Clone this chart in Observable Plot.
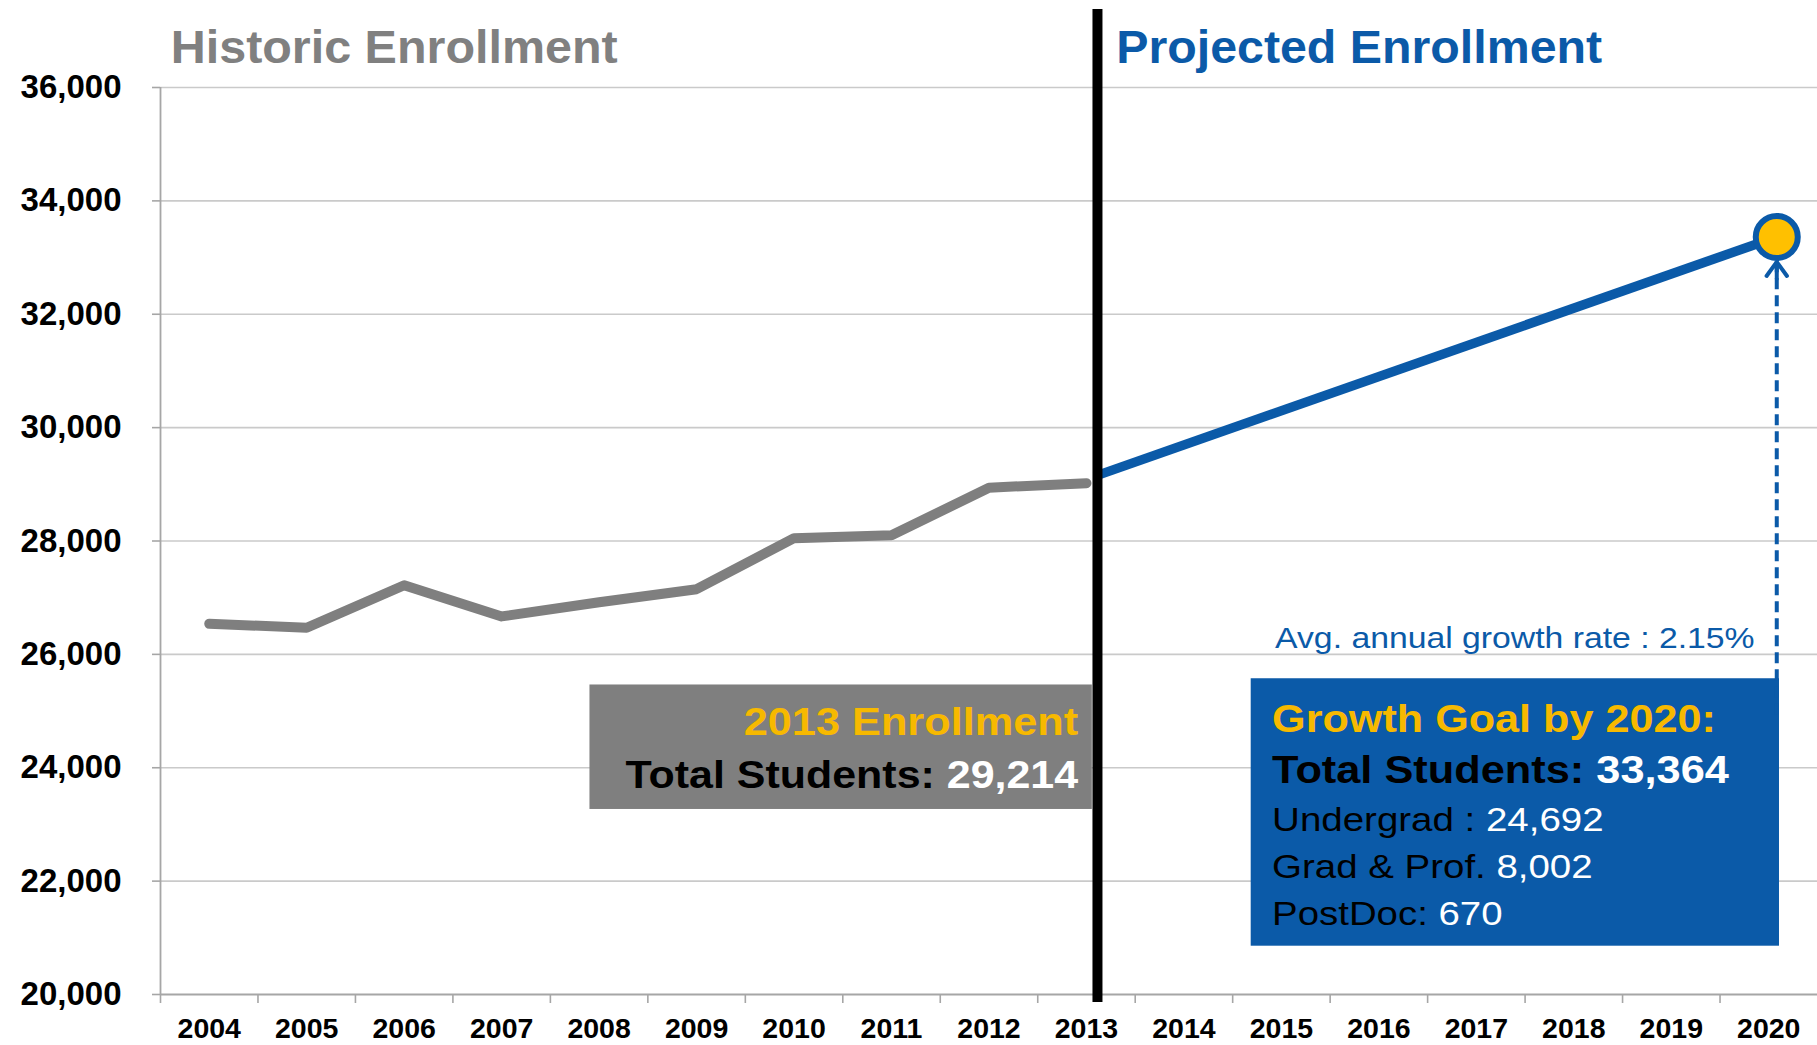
<!DOCTYPE html>
<html>
<head>
<meta charset="utf-8">
<script src="https://cdn.jsdelivr.net/npm/d3@7"></script>
<script src="https://cdn.jsdelivr.net/npm/@observablehq/plot@0.6"></script>
<style>
  html, body { margin: 0; padding: 0; background: #ffffff; }
  #chart svg { display: block; }
  #chart text { white-space: pre; }
</style>
</head>
<body>
<div id="chart"></div>
<script>
// ---------- Data ----------
const years = [2004, 2005, 2006, 2007, 2008, 2009, 2010, 2011, 2012, 2013, 2014, 2015, 2016, 2017, 2018, 2019, 2020];
const historicYears = [2004, 2005, 2006, 2007, 2008, 2009, 2010, 2011, 2012, 2013];
const historicValues = [26540, 26470, 27220, 26670, 26920, 27150, 28050, 28100, 28940, 29020];
const projectedYears = [2013, 2020];
const projectedValues = [29140, 33364];
const yTicks = [20000, 22000, 24000, 26000, 28000, 30000, 32000, 34000, 36000];
const enrollment2013 = [29214];
const goal2020 = [33364];
const goalLabels = ["Undergrad : ", "Grad & Prof. ", "PostDoc: "];
const goalValues = [24692, 8002, 670];
const growthRate = [2.15];

// ---------- Styling ----------
const FONT = "'Liberation Sans', Arial, Helvetica, sans-serif";
const BLUE = "#0b5aa8";
const GRAY = "#7f7f7f";
const GOLD = "#f7b900";
const fmt = d3.format(",");

const historic = historicYears.map((year, i) => ({year, value: historicValues[i]}));
const projected = projectedYears.map((year, i) => ({year, value: projectedValues[i]}));
const goalPoint = [{year: projectedYears[1], value: goal2020[0]}];
const xDomain = [years[0] - 0.5, years[years.length - 1] + 0.5];
const boundaries = years.map(y => y - 0.5);
const SHIFT_DIVIDER = 11; // divider sits slightly right of the 2013 category centre
const SHIFT_GOAL = 8;     // goal marker sits slightly right of the 2020 category centre

// annotation geometry, in data units
const grayBox = {x1: 2007.906, x2: 2013.06, y1: 23264, y2: 25460};
const blueBox = {x1: 2014.69, x2: 2020.11, y1: 20852, y2: 25570};

const textLines = [
  {x: 2003.61, y: 36423, anchor: "start", size: 46, weight: "bold", width: 447,
   parts: [["Historic Enrollment", "#808080"]]},
  {x: 2013.31, y: 36423, anchor: "start", size: 46, weight: "bold", width: 486,
   parts: [["Projected Enrollment", BLUE]]},
  {x: 2012.92, y: 24569, anchor: "end", size: 39, weight: "bold", width: 334.5,
   parts: [[`${historicYears[historicYears.length - 1]} Enrollment`, GOLD]]},
  {x: 2012.92, y: 23639, anchor: "end", size: 39, weight: "bold", width: 452.7,
   parts: [["Total Students: ", "#000000"], [fmt(enrollment2013[0]), "#ffffff"]]},
  {x: 2019.86, y: 26104, anchor: "end", size: 30, weight: "normal", width: 479.5,
   parts: [[`Avg. annual growth rate : ${growthRate[0].toFixed(2)}%`, BLUE]]},
  {x: 2014.91, y: 24627, anchor: "start", size: 39, weight: "bold", width: 443.7,
   parts: [[`Growth Goal by ${projectedYears[1]}:`, GOLD]]},
  {x: 2014.91, y: 23722, anchor: "start", size: 39, weight: "bold", width: 456.7,
   parts: [["Total Students: ", "#000000"], [fmt(goal2020[0]), "#ffffff"]]},
  {x: 2014.91, y: 22881, anchor: "start", size: 33.5, weight: "normal", width: 331.5,
   parts: [[goalLabels[0], "#000000"], [fmt(goalValues[0]), "#ffffff"]]},
  {x: 2014.91, y: 22046, anchor: "start", size: 33.5, weight: "normal", width: 320.5,
   parts: [[goalLabels[1], "#000000"], [fmt(goalValues[1]), "#ffffff"]]},
  {x: 2014.91, y: 21217, anchor: "start", size: 33.5, weight: "normal", width: 230.4,
   parts: [[goalLabels[2], "#000000"], [fmt(goalValues[2]), "#ffffff"]]}
];

function textBlock(lines) {
  return (index, scales) => {
    const g = d3.create("svg:g").attr("font-family", FONT);
    for (const L of lines) {
      const t = g.append("text")
        .attr("x", scales.x(L.x))
        .attr("y", scales.y(L.y))
        .attr("text-anchor", L.anchor)
        .attr("font-size", L.size)
        .attr("font-weight", L.weight)
        .attr("textLength", L.width)
        .attr("lengthAdjust", "spacingAndGlyphs");
      for (const [s, c] of L.parts) t.append("tspan").attr("fill", c).text(s);
    }
    return g.node();
  };
}

const chart = Plot.plot({
  width: 1817,
  height: 1045,
  marginLeft: 160,
  marginRight: 0,
  marginTop: 87,
  marginBottom: 51,
  style: {fontFamily: FONT, background: "#ffffff", overflow: "visible"},
  x: {type: "linear", domain: xDomain, axis: null},
  y: {domain: [yTicks[0], yTicks[yTicks.length - 1]], axis: null},
  marks: [
    Plot.gridY(yTicks.slice(1), {stroke: "#cacaca", strokeOpacity: 1, strokeWidth: 1.6}),
    Plot.axisY(yTicks, {
      tickSize: 8, tickPadding: 31, tickFormat: fmt, label: null,
      stroke: "#a6a6a6", strokeWidth: 1.6, fill: "#000000", fontSize: 33, fontWeight: "bold"
    }),
    Plot.axisX(boundaries, {
      tickSize: 9, tickFormat: () => "", label: null, stroke: "#a6a6a6", strokeWidth: 1.6
    }),
    Plot.axisX(years, {
      tickSize: 0, tickPadding: 23, tickFormat: d => String(d), label: null,
      fill: "#000000", fontSize: 28.5, fontWeight: "bold"
    }),
    Plot.ruleY([yTicks[0]], {stroke: "#a6a6a6", strokeWidth: 2.2}),
    Plot.ruleX([xDomain[0]], {stroke: "#a6a6a6", strokeWidth: 1.8}),
    // annotation boxes
    Plot.rect([grayBox], {x1: "x1", x2: "x2", y1: "y1", y2: "y2", fill: GRAY}),
    Plot.rect([blueBox], {x1: "x1", x2: "x2", y1: "y1", y2: "y2", fill: BLUE}),
    // historic and projected lines
    Plot.line(historic, {x: "year", y: "value", stroke: GRAY, strokeWidth: 10,
      strokeLinejoin: "round", strokeLinecap: "round"}),
    Plot.line(projected, {x: "year", y: "value", dx: SHIFT_GOAL, stroke: BLUE, strokeWidth: 9.5,
      strokeLinecap: "butt"}),
    // dashed arrow from the goal box up to the goal point
    Plot.ruleX([{year: projectedYears[1], y1: blueBox.y2, y2: goal2020[0]}], {
      x: "year", y1: "y1", y2: "y2", dx: SHIFT_GOAL, insetTop: 36,
      stroke: BLUE, strokeWidth: 4, strokeDasharray: "11,6"
    }),
    Plot.arrow([{year: projectedYears[1], y1: blueBox.y2, y2: goal2020[0]}], {
      x1: "year", x2: "year", y1: "y1", y2: "y2", dx: SHIFT_GOAL,
      insetStart: 400, insetEnd: 25, headLength: 6.5, headAngle: 72,
      stroke: BLUE, strokeWidth: 4
    }),
    Plot.dot(goalPoint, {x: "year", y: "value", dx: SHIFT_GOAL, r: 21, fill: "#ffc000",
      stroke: BLUE, strokeWidth: 6}),
    // divider between historic and projected
    Plot.ruleX([historicYears[historicYears.length - 1]], {dx: SHIFT_DIVIDER, stroke: "#000000",
      strokeWidth: 10, insetTop: -78, insetBottom: -8}),
    textBlock(textLines)
  ]
});

document.getElementById("chart").appendChild(chart);
</script>
</body>
</html>
